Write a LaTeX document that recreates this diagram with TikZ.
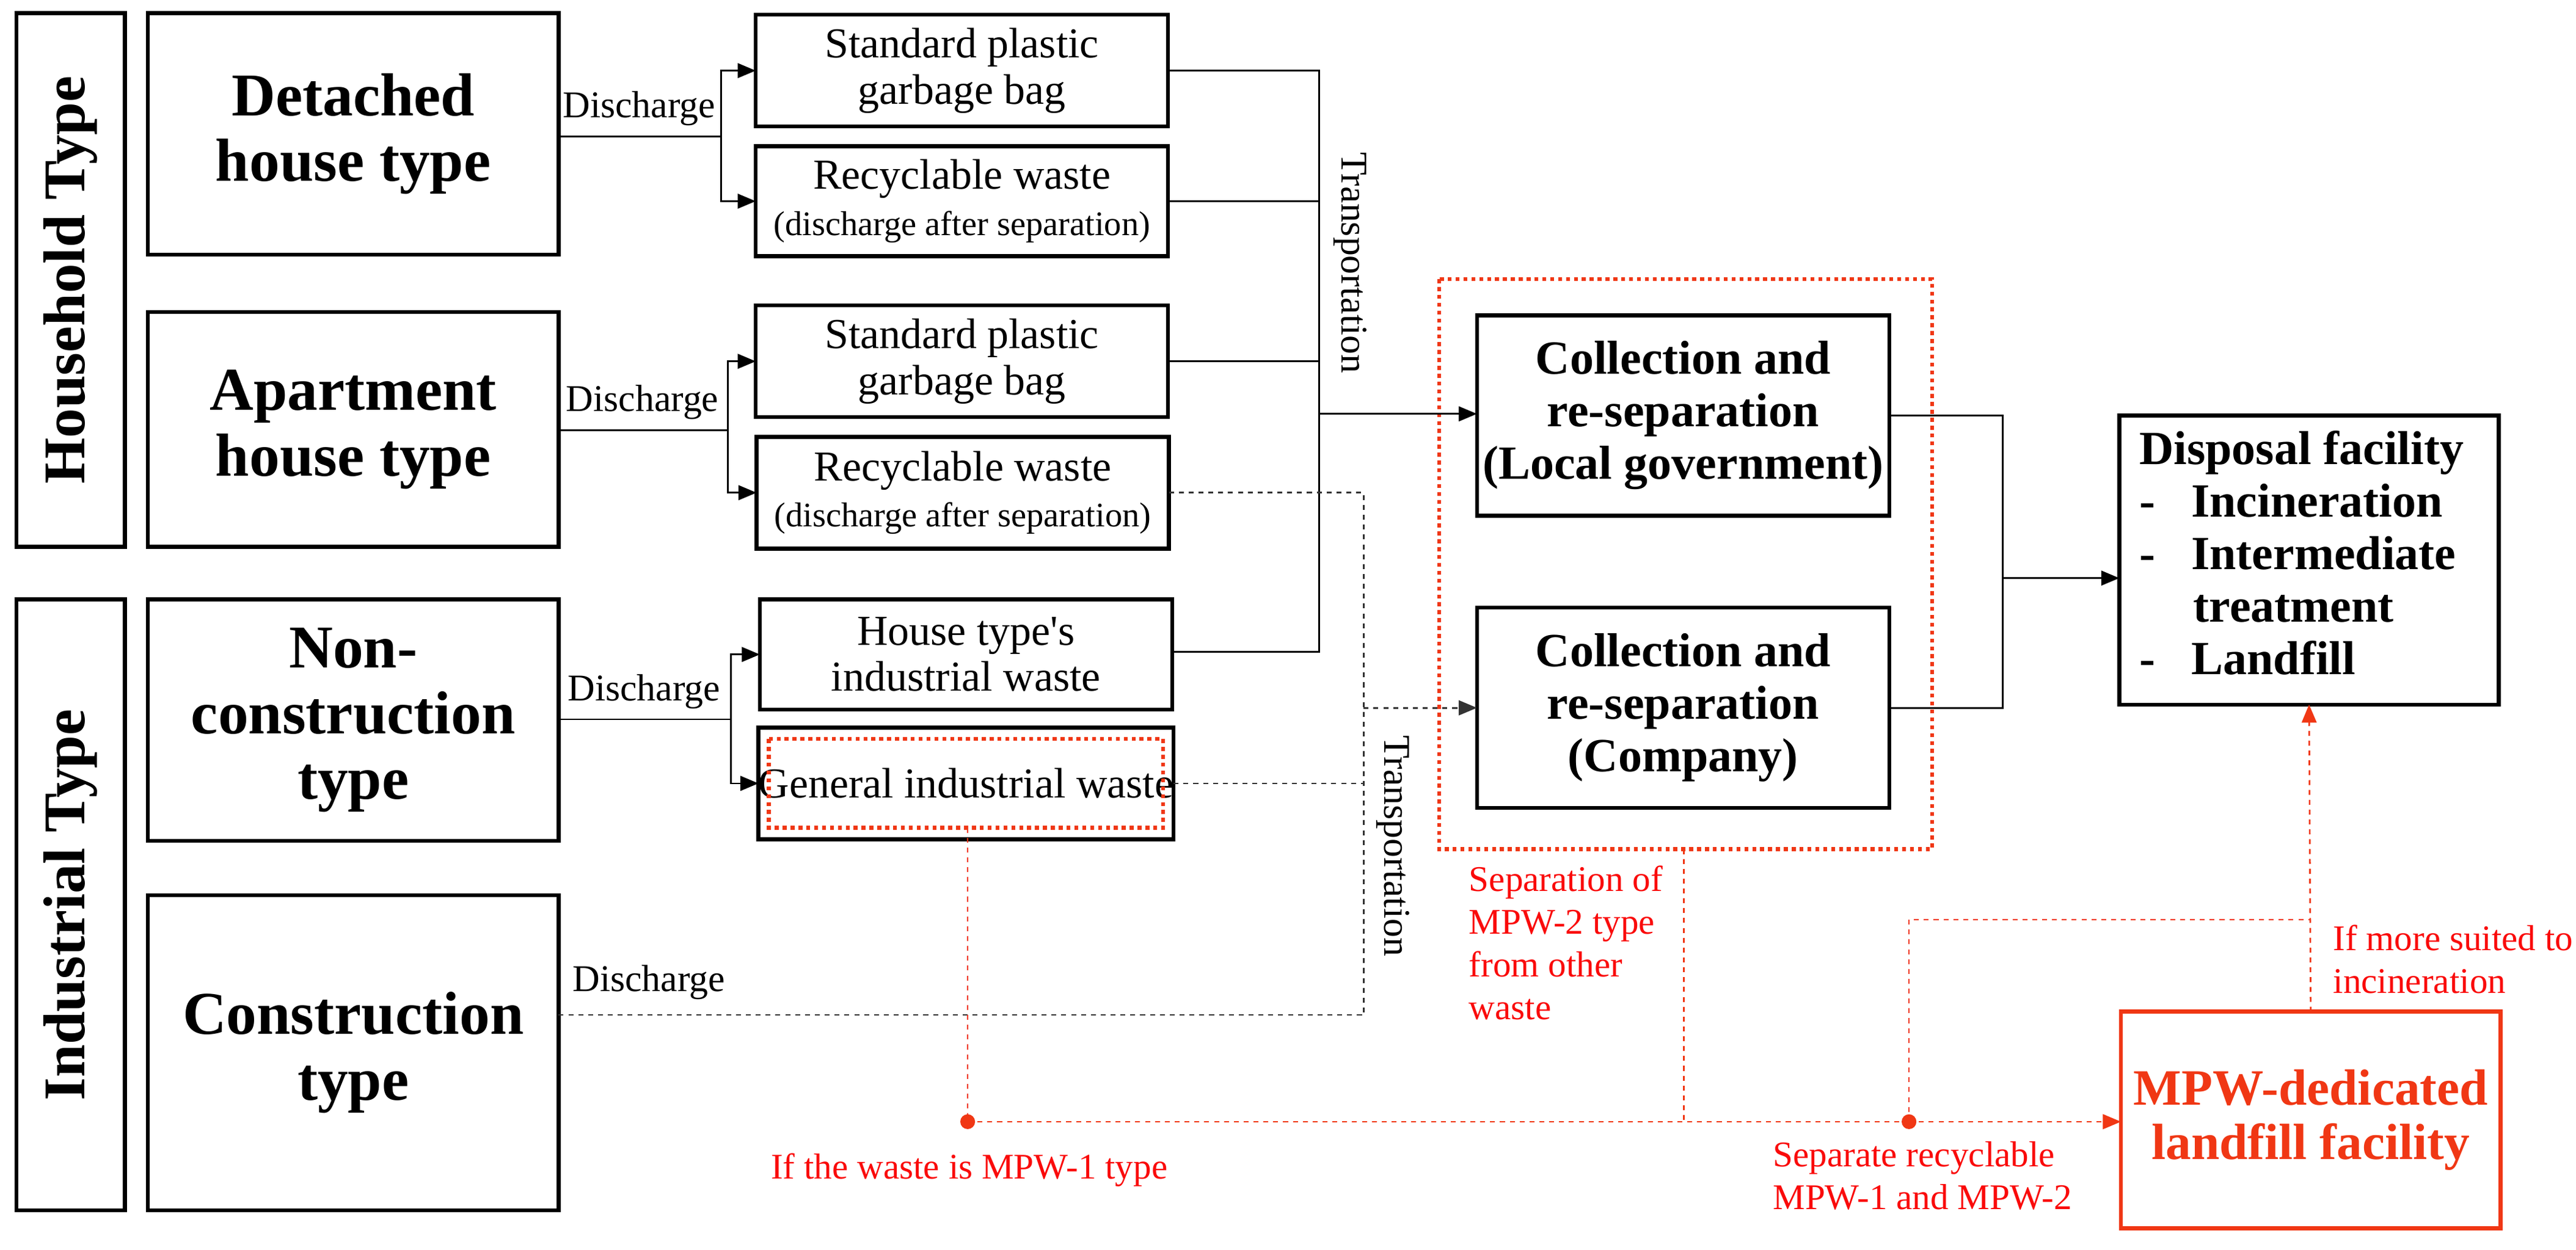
\documentclass[tikz,border=0pt]{standalone}
\usepackage{fontspec}
\setmainfont{Liberation Serif}
\newfontfamily\tnr{Liberation Serif}
\usetikzlibrary{arrows.meta}
\definecolor{mred}{RGB}{240,55,20}
\definecolor{tred}{RGB}{250,10,10}
\begin{document}
\begin{tikzpicture}[x=1pt,y=-1pt,
  box/.style={draw,line width=2.4pt,inner sep=0pt,outer sep=0pt,align=center},
  big/.style={font=\tnr\fontsize{37}{40}\selectfont\bfseries},
  mid/.style={font=\tnr\fontsize{26}{28}\selectfont},
  col/.style={font=\tnr\fontsize{29}{32}\selectfont\bfseries},
  lab/.style={font=\tnr\fontsize{23}{26}\selectfont},
  rlab/.style={font=\tnr\fontsize{22}{26}\selectfont,text=tred,align=left,inner sep=0pt,anchor=north west},
  con/.style={line width=1pt},
  arr/.style={line width=1pt,-{Triangle[length=11pt,width=9pt]}},
  dsh/.style={line width=1pt,dash pattern=on 3pt off 3pt,black!80},
  rdsh/.style={line width=1pt,dash pattern=on 3pt off 3pt,mred},
  rdot/.style={line width=2.4pt,dash pattern=on 2.4pt off 2.4pt,mred},
  rarr/.style={-{Triangle[length=11pt,width=9pt]},mred}]
\useasboundingbox (0,0) rectangle (1568,761);
\fill[white] (0,0) rectangle (1568,761);
% left type boxes
\node[box,minimum width=66pt,minimum height=325pt] (hh) at (43,170.5) {};
\node[font=\tnr\fontsize{36}{40}\selectfont\bfseries,rotate=90] (hht) at (hh.center) {Household Type};
\node[box,minimum width=66pt,minimum height=372pt] (ind) at (43,551) {};
\node[font=\tnr\fontsize{36}{40}\selectfont\bfseries,rotate=90] (indt) at (ind.center) {Industrial Type};
\node[box,big,minimum width=250pt,minimum height=147pt] (det) at (215,81.5) {Detached\\house type};
\node[box,big,minimum width=250pt,minimum height=143pt] (apt) at (215,261.5) {Apartment\\house type};
\node[box,big,minimum width=250pt,minimum height=147pt] (non) at (215,438.5) {Non-\\construction\\type};
\node[box,big,minimum width=250pt,minimum height=192pt] (cons) at (215,641) {Construction\\type};
% middle boxes
\node[box,mid,minimum width=251pt,minimum height=68pt] (s1) at (585.5,43) {Standard plastic\\garbage bag};
\node[box,mid,minimum width=251pt,minimum height=67pt] (r1) at (585.5,122.5) {Recyclable waste\\{\fontsize{21}{24}\selectfont (discharge after separation)}};
\node[box,mid,minimum width=251pt,minimum height=68pt] (s2) at (585.5,220) {Standard plastic\\garbage bag};
\node[box,mid,minimum width=251pt,minimum height=68pt] (r2) at (586,300) {Recyclable waste\\{\fontsize{21}{24}\selectfont (discharge after separation)}};
\node[box,mid,minimum width=251pt,minimum height=67pt] (ht) at (588,398.5) {House type's\\industrial waste};
\node[box,mid,minimum width=251pt,minimum height=68pt] (giw) at (588,477) {General industrial waste};
\draw[rdot] (468,450) rectangle (708,504);
% discharge connectors
\coordinate (b1) at (439,83);
\draw[con] (det.east|-b1) -- (b1);
\draw[arr] (b1) |- (s1.west);
\draw[arr] (b1) |- (r1.west);
\node[lab,anchor=south] (d1) at (389,80) {Discharge};
\coordinate (b2) at (443,262);
\draw[con] (apt.east|-b2) -- (b2);
\draw[arr] (b2) |- (s2.west);
\draw[arr] (b2) |- (r2.west);
\node[lab,anchor=south] (d2) at (391,259) {Discharge};
\coordinate (b3) at (445,438);
\draw[con] (non.east|-b3) -- (b3);
\draw[arr] (b3) |- (ht.west);
\draw[arr] (b3) |- (giw.west);
\node[lab,anchor=south] (d3) at (392,435) {Discharge};
\coordinate (b4) at (830,618);
\draw[dsh] (cons.east|-b4) -- (b4);
\node[lab,anchor=south] (d4) at (395,612) {Discharge};
% collection boxes
\draw[rdot] (876,170) rectangle (1176,517);
\coordinate (rbx) at (1025,517);
\node[box,col,minimum width=251pt,minimum height=122pt] (lg) at (1024.5,253) {Collection and\\re-separation\\(Local government)};
\node[box,col,minimum width=251pt,minimum height=122pt] (co) at (1024.5,431) {Collection and\\re-separation\\(Company)};
% transportation solid
\coordinate (t1) at (803,43);
\coordinate (t2) at (803,397);
\coordinate (ta) at (803,252);
\draw[con] (s1.east) -- (t1) -- (t2) -- (ht.east|-t2);
\draw[con] (r1.east) -- (r1.east-|t1);
\draw[con] (s2.east) -- (s2.east-|t1);
\draw[arr] (ta) -- (lg.west|-ta);
\node[lab,rotate=-90] (tr1) at (822,160) {Transportation};
% transportation dashed
\coordinate (u1) at (830,300);
\coordinate (ua) at (830,431);
\draw[dsh] (r2.east) -- (u1) -- (b4);
\draw[dsh] (giw.east) -- (giw.east-|u1);
\draw[dsh,-{Triangle[length=11pt,width=9pt]}] (ua) -- (co.west);
\node[lab,rotate=-90] (tr2) at (848,515) {Transportation};
% to disposal
\node[box,col,minimum width=231pt,minimum height=176pt] (dis) at (1405.5,341) {};
\node[col,align=left,anchor=north west,inner sep=0pt] (dist) at (1302,262) {Disposal facility\\-\hspace{22pt}Incineration\\-\hspace{22pt}Intermediate\\\hspace{33pt}treatment\\-\hspace{22pt}Landfill};
\coordinate (m1) at (1219,253);
\coordinate (m2) at (1219,431);
\coordinate (ma) at (1219,352);
\draw[con] (lg.east) -- (m1) -- (m2) -- (co.east);
\draw[arr] (ma) -- (dis.west|-ma);
% MPW
\node[box,draw=mred,text=mred,font=\tnr\fontsize{31}{33}\selectfont\bfseries,minimum width=231pt,minimum height=132pt] (mpw) at (1406.5,682) {MPW-dedicated\\landfill facility};
\coordinate (g1) at (589,504);
\coordinate (dot1) at (589,683);
\coordinate (dot2) at (1162,683);
\coordinate (rj) at (1025,683);
\coordinate (h1) at (1162,560);
\coordinate (h2) at (1406,560);
\draw[rdsh] (g1) -- (dot1);
\draw[rdsh] (dot1) -- (dot2);
\draw[rdsh,-{Triangle[length=11pt,width=9pt]}] (dot2) -- (mpw.west|-dot2);
\draw[rdsh] (rbx) -- (rj);
\draw[rdsh] (dot2) -- (h1) -- (h2);
\draw[rdsh,-{Triangle[length=11pt,width=9pt]}] (mpw.north) -- (dis.south);
\fill[mred] (dot1) circle (4.5pt);
\fill[mred] (dot2) circle (4.5pt);
% red labels
\node[rlab,anchor=north] (l1) at (590,702) {If the waste is MPW-1 type};
\node[rlab] (l2) at (894,527) {Separation of\\MPW-2 type\\from other\\waste};
\node[rlab] (l3) at (1420,563) {If more suited to\\incineration};
\node[rlab] (l4) at (1079,695) {Separate recyclable\\MPW-1 and MPW-2};
\end{tikzpicture}
\end{document}
